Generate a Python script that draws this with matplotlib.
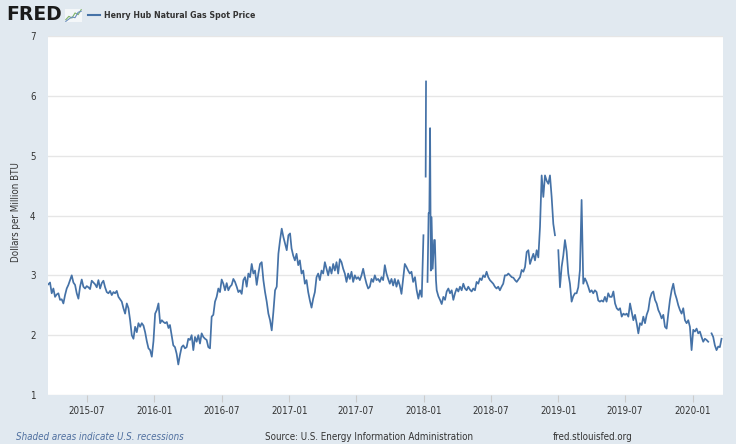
import matplotlib
matplotlib.use("Agg")
import matplotlib.pyplot as plt
import matplotlib.dates as mdates
from matplotlib.lines import Line2D
import numpy as np
import pandas as pd

nan = np.nan

# Henry Hub spot price (dollars per million BTU)
# each block is evenly spaced between its first and last date
p_2015 = [2.85, 2.88, 2.70, 2.78, 2.64, 2.68, 2.70, 2.59, 2.60, 2.53,
          2.67, 2.78, 2.84, 2.92, 3.00, 2.88, 2.84, 2.70, 2.61, 2.81,
          2.93, 2.81, 2.78, 2.82, 2.80, 2.77, 2.91, 2.88, 2.85, 2.80,
          2.92, 2.78, 2.87, 2.91, 2.80, 2.72, 2.70, 2.74, 2.67, 2.72,
          2.70, 2.74, 2.64, 2.60, 2.56, 2.45, 2.36, 2.53, 2.45, 2.25,
          2.00, 1.94, 2.14, 2.05, 2.20, 2.14, 2.20, 2.16, 2.05, 1.90,
          1.78, 1.75, 1.64, 1.90, 2.36, 2.42, 2.53, 2.20, 2.25, 2.22,
          2.20, 2.22, 2.12]
p_2016 = [2.17, 2.00, 1.83, 1.80, 1.69, 1.51, 1.67, 1.80, 1.83, 1.78,
          1.80, 1.94, 1.92, 2.00, 1.75, 1.97, 1.89, 2.00, 1.86, 2.03,
          1.97, 1.94, 1.92, 1.80, 1.78, 2.31, 2.34, 2.56, 2.64, 2.78,
          2.72, 2.93, 2.86, 2.75, 2.87, 2.75, 2.81, 2.84, 2.94, 2.89,
          2.81, 2.72, 2.75, 2.69, 2.92, 2.97, 2.81, 3.03, 2.97, 3.19,
          3.03, 3.08, 2.84, 3.03, 3.19, 3.22, 2.92, 2.72, 2.56, 2.36,
          2.25, 2.08, 2.39, 2.75, 2.81, 3.36, 3.59, 3.78, 3.64, 3.53,
          3.42, 3.67, 3.70]
p_2017 = [3.45, 3.33, 3.25, 3.36, 3.17, 3.25, 3.03, 3.08, 2.86, 2.92,
          2.72, 2.58, 2.46, 2.61, 2.72, 2.97, 3.03, 2.92, 3.08, 3.03,
          3.22, 3.11, 3.00, 3.14, 3.03, 3.19, 3.08, 3.22, 3.03, 3.27,
          3.22, 3.11, 3.03, 2.89, 3.03, 2.94, 3.06, 2.89, 3.00, 2.94,
          2.97, 2.92, 3.00, 3.11, 2.97, 2.86, 2.78, 2.81, 2.94, 2.89,
          3.00, 2.92, 2.94, 2.89, 2.97, 2.92, 3.17, 3.03, 2.94, 2.86,
          2.94, 2.83, 2.94, 2.81, 2.92, 2.83, 2.69, 2.94, 3.19, 3.14,
          3.08, 3.03, 3.06, 2.89]
p_dec2017 = [2.97, 2.75, 2.61, 2.75, 2.64, 3.67]
p_2018 = [2.75, 2.65, 2.59, 2.52, 2.64, 2.59, 2.73, 2.78, 2.70, 2.75,
          2.59, 2.70, 2.78, 2.73, 2.81, 2.75, 2.86, 2.78, 2.75, 2.81,
          2.76, 2.73, 2.78, 2.75, 2.89, 2.86, 2.95, 2.92, 3.00, 2.97,
          3.06, 2.97, 2.92, 2.89, 2.86, 2.81, 2.78, 2.81, 2.75, 2.81,
          2.86, 3.00]
p_2018b = [3.00, 3.03, 3.00, 2.97, 2.96, 2.92, 2.89, 2.93, 2.97, 3.09,
           3.06, 3.14, 3.39, 3.42, 3.19, 3.28, 3.36, 3.25, 3.42, 3.30,
           3.81, 4.67, 4.31, 4.67, 4.58, 4.53, 4.67, 4.31, 3.86, 3.67,
           nan, 3.42, 2.80, 3.14, 3.33, 3.59, 3.40, 3.03, 2.86, 2.56,
           2.65, 2.70, 2.70, 2.80, 3.09, 4.26, 2.86, 2.95, 2.89, 2.81,
           2.72, 2.75, 2.70, 2.75, 2.72, 2.58, 2.56, 2.58, 2.56, 2.64,
           2.56, 2.70, 2.64]
p_2019 = [2.64, 2.73, 2.53,
          2.45, 2.42, 2.45, 2.31, 2.36, 2.34, 2.36, 2.31, 2.53, 2.39,
          2.25, 2.34, 2.20, 2.03, 2.20, 2.17, 2.31, 2.20, 2.34, 2.42,
          2.61, 2.70, 2.73, 2.59, 2.53, 2.42, 2.36, 2.28, 2.34, 2.14,
          2.11, 2.36, 2.59, 2.75, 2.86, 2.70, 2.61, 2.50, 2.42, 2.36,
          2.45, 2.25, 2.20, 2.25, 2.14, 1.75, 2.09, 2.06, 2.11, 2.03,
          2.06, 1.97, 1.89, 1.94, 1.92, 1.89, nan, 2.03, 1.97, 1.83,
          1.75, 1.81, 1.80, 1.94]

# the January 2018 cold-snap spikes, with the missing days
jan18_dates = ["2018-01-03", "2018-01-06", "2018-01-07", "2018-01-09",
               "2018-01-11", "2018-01-14", "2018-01-16", "2018-01-18",
               "2018-01-20", "2018-01-22", "2018-01-25", "2018-01-29",
               "2018-01-31", "2018-02-03"]
jan18_vals = [nan, 4.65, 6.24, nan, 2.89, 4.04, 4.04, 5.46,
              3.08, 3.97, 3.11, 3.59, 3.59, 2.92]

blocks = [
    ("2015-03-19", "2016-02-08", p_2015),
    ("2016-02-12", "2017-01-03", p_2016),
    ("2017-01-07", "2017-12-03", p_2017),
    ("2017-12-08", "2017-12-31", p_dec2017),
    (None, None, None),
    ("2018-02-05", "2018-08-09", p_2018),
    ("2018-08-14", "2019-05-21", p_2018b),
    ("2019-05-26", "2020-03-19", p_2019),
]

parts = []
for start, end, vals in blocks:
    if vals is None:
        parts.append(pd.Series(jan18_vals, index=pd.to_datetime(jan18_dates)))
    else:
        idx = pd.date_range(start, end, periods=len(vals))
        parts.append(pd.Series(vals, index=idx))
price = pd.concat(parts)

bg = "#e1e9f0"
txt = "#333333"
blue = "#4572a7"
plt.rcParams['font.family'] = ['DejaVu Sans']
plt.rcParams['font.stretch'] = 'condensed'

W, H = 736, 444
fig = plt.figure(figsize=(W / 100, H / 100), dpi=100, facecolor=bg)
ax = fig.add_axes([48 / W, 1 - 395 / H, (723 - 48) / W, (395 - 36) / H])
ax.set_facecolor("white")
ax.plot(price.index, price.values, color=blue, lw=1.25)

ax.set_ylim(1, 7)
ax.set_yticks(range(1, 8))
ax.set_xlim(pd.Timestamp("2015-03-18"), pd.Timestamp("2020-03-23"))
ax.set_xticks(pd.date_range("2015-07-01", "2020-01-01", freq="6MS"))
ax.xaxis.set_major_formatter(mdates.DateFormatter("%Y-%m"))
ax.grid(axis="y", color="#e6e6e6", lw=1)
ax.set_axisbelow(True)
for s in ax.spines.values():
    s.set_visible(False)
ax.tick_params(axis="y", length=0, pad=9, labelsize=7, labelcolor=txt)
ax.tick_params(axis="x", length=5, width=0.8, color="#cccccc", pad=3,
               labelsize=7, labelcolor=txt)

fig.text(16 / W, 1 - 212 / H, "Dollars per Million BTU", rotation=90,
         ha="center", va="center", fontsize=7, color=txt)

# header
fig.text(6 / W, 1 - 15 / H, "FRED", fontsize=13.5, fontweight="heavy",
         fontstretch="normal", color="#1a1a1a", va="center")
icon = fig.add_axes([65 / W, 1 - 22 / H, 17 / W, 13 / H])
icon.set_facecolor("#f4f7f9")
icon.plot([0, 1, 2, 3, 4, 5], [1, 2, 1.5, 3, 2.5, 4], color="#7fb36a", lw=0.8)
icon.plot([0, 1, 2, 3, 4, 5], [0.5, 1.2, 1.8, 1.6, 3.2, 3.5], color="#6d8fbf", lw=0.8)
icon.set_xticks([])
icon.set_yticks([])
for s in icon.spines.values():
    s.set_visible(False)
fig.add_artist(Line2D([88 / W, 100 / W], [1 - 15 / H] * 2, color=blue, lw=1.5))
fig.text(104 / W, 1 - 15 / H, "Henry Hub Natural Gas Spot Price", fontsize=6.3,
         fontweight="bold", color=txt, va="center")

# footer
fig.text(16 / W, 1 - 437 / H, "Shaded areas indicate U.S. recessions",
         fontsize=7, style="italic", color="#4f6f9f", va="center")
fig.text(265 / W, 1 - 437 / H, "Source: U.S. Energy Information Administration",
         fontsize=7, color=txt, va="center")
fig.text(553 / W, 1 - 437 / H, "fred.stlouisfed.org",
         fontsize=7, color=txt, va="center")

fig.savefig("out.png", dpi=100, facecolor=bg)
